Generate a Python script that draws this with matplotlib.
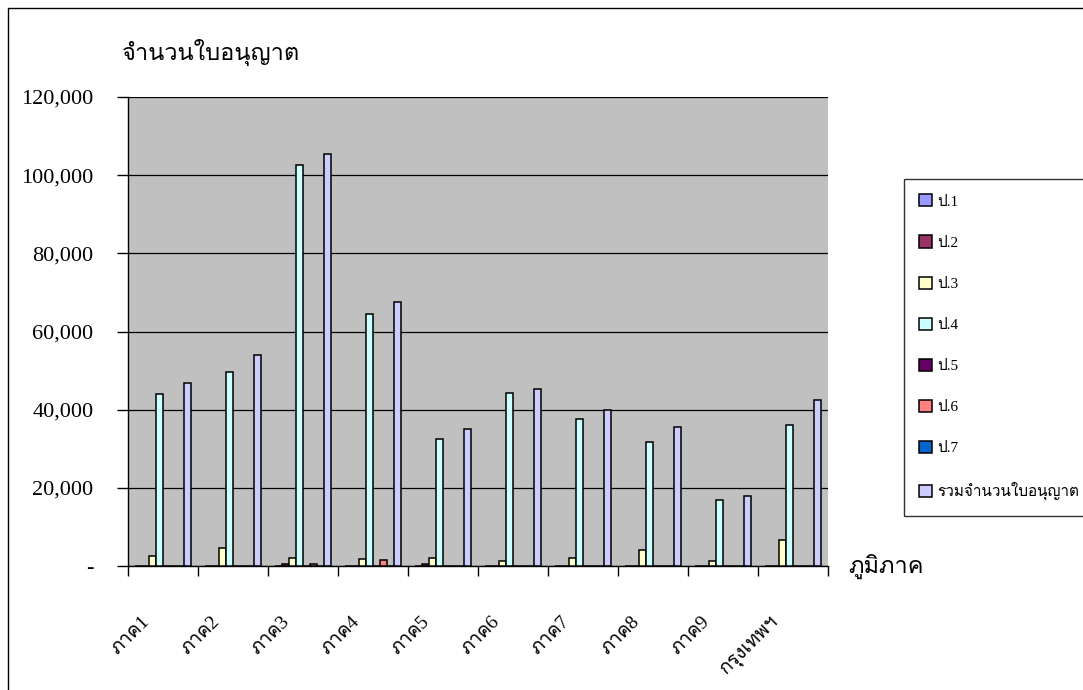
import matplotlib
matplotlib.use("Agg")
import matplotlib.pyplot as plt
import numpy as np
from matplotlib import font_manager
from matplotlib.ft2font import FT2Font
from matplotlib.ticker import FuncFormatter, MultipleLocator, FixedLocator
from matplotlib.patches import Rectangle
from matplotlib.transforms import ScaledTranslation

# data
regions = ["ภาค1", "ภาค2", "ภาค3", "ภาค4", "ภาค5", "ภาค6", "ภาค7", "ภาค8", "ภาค9", "กรุงเทพฯ"]
series_names = ["ป.1", "ป.2", "ป.3", "ป.4", "ป.5", "ป.6", "ป.7", "รวมจำนวนใบอนุญาต"]
p1 = [0, 0, 0, 0, 0, 0, 0, 0, 0, 0]
p2 = [0, 0, 500, 0, 500, 0, 0, 0, 0, 0]
p3 = [2500, 4500, 2100, 1700, 2100, 1200, 2100, 4100, 1200, 6600]
p4 = [44000, 49700, 102500, 64500, 32500, 44300, 37500, 31600, 16800, 36000]
p5 = [0, 0, 0, 0, 0, 0, 0, 0, 0, 0]
p6 = [0, 0, 500, 1600, 0, 0, 0, 0, 0, 0]
p7 = [0, 0, 0, 0, 0, 0, 0, 0, 0, 0]
total = [46700, 54000, 105500, 67500, 35000, 45300, 39900, 35600, 17800, 42400]
colors = ["#9999FF", "#993366", "#FFFFCC", "#CCFFFF", "#660066", "#FF8080", "#0066CC", "#CCCCFF"]


# find something that can draw Thai
def find_thai_font():
    for f in font_manager.fontManager.ttflist:
        try:
            if ord("ก") in FT2Font(f.fname).get_charmap():
                return f.name
        except Exception:
            pass
    return "DejaVu Sans"


thai = find_thai_font()
fam = ["Liberation Serif", thai, "DejaVu Sans"]
plt.rcParams["font.family"] = fam

W, H = 1083, 690
fig = plt.figure(figsize=(W / 100, H / 100), dpi=100)
fig.patches.append(Rectangle((8 / W, -0.1), 1.2, 1 - 8 / H + 0.1, transform=fig.transFigure,
                             fill=False, edgecolor="black", linewidth=1.0))

ax = fig.add_axes([128 / W, (H - 566) / H, 700 / W, 469 / H])
ax.set_facecolor("#C0C0C0")

all_series = [p1, p2, p3, p4, p5, p6, p7, total]
x = np.arange(len(regions))
bw = 0.1
for k, vals in enumerate(all_series):
    ax.bar(x + 0.15 + bw * k, vals, width=bw, color=colors[k], edgecolor="black",
           linewidth=1.1, label=series_names[k], zorder=3)

ax.set_xlim(0, len(regions))
ax.set_ylim(0, 120000)
ax.yaxis.set_major_locator(MultipleLocator(20000))
ax.yaxis.set_major_formatter(FuncFormatter(lambda v, p: "-" if v == 0 else f"{int(v):,}"))
ax.grid(axis="y", color="black", linewidth=0.9, zorder=1)
ax.set_axisbelow(True)
for s in ["top", "right"]:
    ax.spines[s].set_visible(False)
ax.spines["left"].set_linewidth(1.0)
ax.spines["bottom"].set_linewidth(1.0)
ax.tick_params(axis="y", length=8, width=1.0, labelsize=16, pad=17)

ax.xaxis.set_major_locator(FixedLocator(x + 0.5))
ax.xaxis.set_minor_locator(FixedLocator(np.arange(len(regions) + 1)))
ax.tick_params(axis="x", which="minor", length=7, width=1.0)
ax.tick_params(axis="x", which="major", length=0, pad=34)
ax.set_xticklabels(regions, rotation=45, ha="right", rotation_mode="anchor", fontsize=14)
shift = ScaledTranslation(-22 / 100, 0, fig.dpi_scale_trans)
for lbl in ax.get_xticklabels():
    lbl.set_va("top")
    lbl.set_transform(lbl.get_transform() + shift)

fig.text(122 / W, 1 - 52 / H, "จำนวนใบอนุญาต", fontsize=17, va="center", ha="left")
fig.text(848 / W, 1 - 566 / H, "ภูมิภาค", fontsize=17, va="center", ha="left")

leg = ax.legend(loc="upper left", bbox_to_anchor=(904 / W, 1 - 179 / H), bbox_transform=fig.transFigure,
                frameon=True, fancybox=False, edgecolor="black", prop={"size": 11},
                labelspacing=1.75, handlelength=0.85, handleheight=0.85, handletextpad=0.35,
                borderpad=1.0, borderaxespad=0)
leg.get_frame().set_linewidth(1.0)

fig.savefig("out.png", dpi=100)
